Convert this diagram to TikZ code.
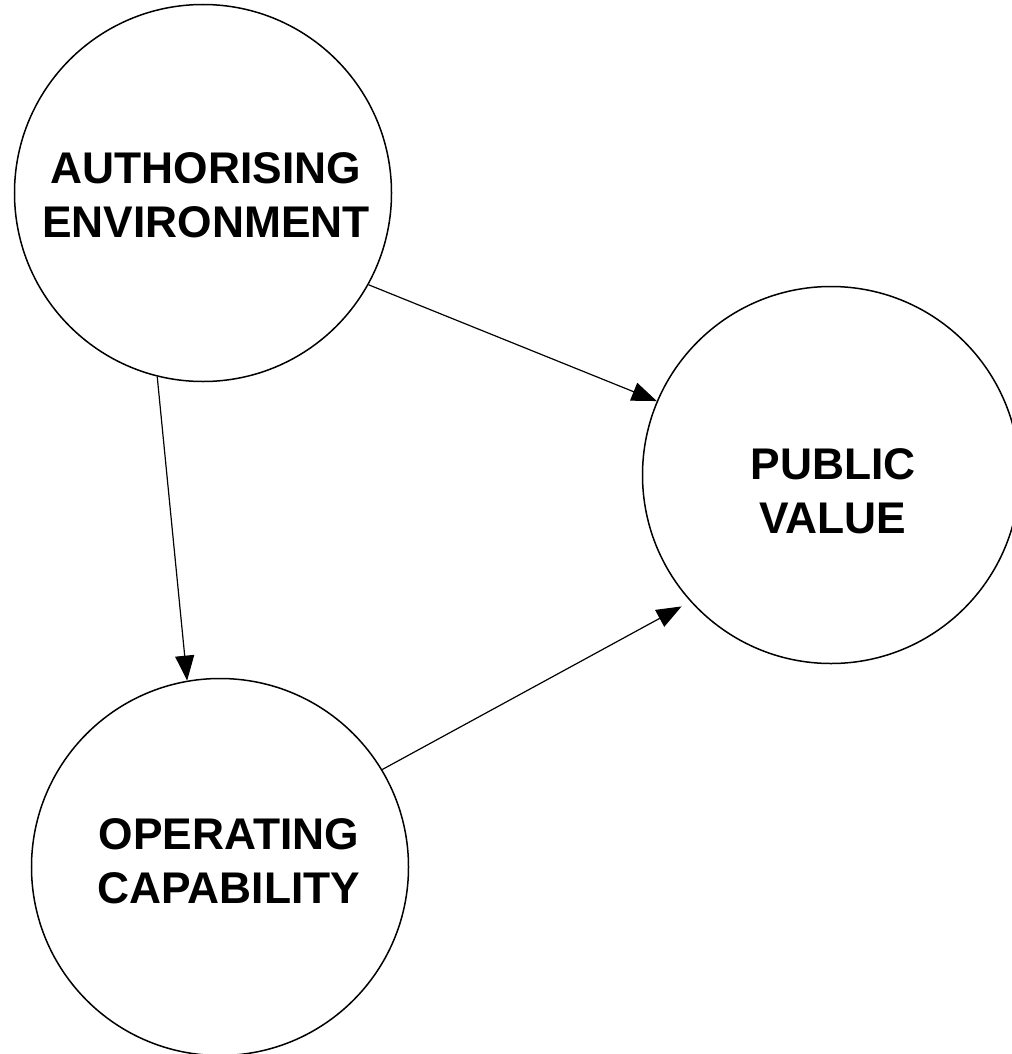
\documentclass[tikz,border=0pt]{standalone}
\usepackage{fontspec}
\setmainfont{Liberation Sans}
\usetikzlibrary{arrows.meta}

\tikzset{
  bubble/.style={circle, draw, line width=1.5bp, minimum size=377bp, inner sep=0pt},
  caption/.style={align=center, font=\bfseries\fontsize{44.5pt}{54.2pt}\selectfont, inner sep=0pt},
  link/.style={line width=1.2bp, -{Triangle[length=25bp,width=19bp]}}
}

\begin{document}
\begin{tikzpicture}[x=1bp, y=-1bp]
\useasboundingbox (0,0) rectangle (1012,1054);

% circles
\node[bubble] (ae) at (203,193) {};
\node[bubble] (pv) at (831,475) {};
\node[bubble] (oc) at (220,867) {};

% texts
\node[caption] (aetext) at (206,195.5) {AUTHORISING\\ENVIRONMENT};
\node[caption] (pvtext) at (833,491) {PUBLIC\\VALUE};
\node[caption] (octext) at (229,861) {OPERATING\\CAPABILITY};

% arrows
\draw[link] (ae.-29) -- (pv.157);
\draw[link] (ae.256) -- (oc.100);
\draw[link, shorten >=10bp] (oc.31) -- (pv.222);
\end{tikzpicture}
\end{document}
